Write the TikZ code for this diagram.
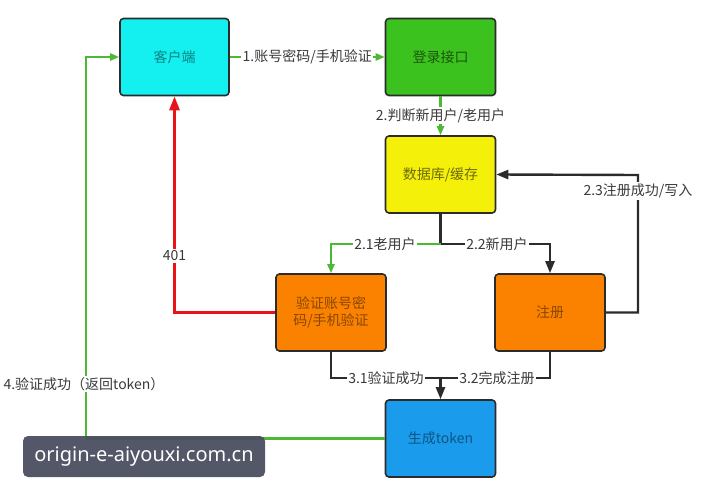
\documentclass[tikz,border=0pt]{standalone}
\usepackage{fontspec}
\setmainfont{Noto Sans CJK SC}
\newfontfamily\wmfont{Noto Sans}
\usetikzlibrary{arrows.meta}
\definecolor{cfill}{HTML}{14EFEF}
\definecolor{lfill}{HTML}{3CC21E}
\definecolor{dfill}{HTML}{F4F00A}
\definecolor{ofill}{HTML}{FA8200}
\definecolor{tfill}{HTML}{1A9BEB}
\definecolor{bord}{HTML}{2B2B2B}
\definecolor{gline}{HTML}{4DB833}
\definecolor{rline}{HTML}{E8141A}
\definecolor{ltext}{HTML}{3A3A3A}
\definecolor{wmbg}{HTML}{4B4E60}
\tikzset{
  box/.style={draw=bord, line width=1.6pt, rounded corners=3.5pt, minimum width=110pt, minimum height=77pt, inner sep=2pt, font=\fontsize{14}{17}\selectfont, align=center},
  lbl/.style={fill=white, text=ltext, inner sep=1.5pt, font=\fontsize{14}{17}\selectfont},
  gconn/.style={draw=gline, line width=2.2pt, -{Triangle[length=9pt,width=7pt]}},
  gplain/.style={draw=gline, line width=2.2pt},
  kconn/.style={draw=bord, line width=2.4pt, -{Triangle[length=12pt,width=9pt]}},
  kplain/.style={draw=bord, line width=2.4pt},
  rconn/.style={draw=rline, line width=2.6pt, -{Triangle[length=14pt,width=10pt]}},
}
\begin{document}
\begin{tikzpicture}[x=1pt,y=-1pt]
\useasboundingbox[fill=white] (0,0) rectangle (704,500);
\node[box, fill=cfill, text=cfill!55!black, minimum width=109pt] (client) at (174.5,57) {客户端};
\node[box, fill=lfill, text=lfill!45!black] (login) at (440.5,57) {登录接口};
\node[box, fill=dfill, text=dfill!45!black] (db) at (440.5,174.5) {数据库/缓存};
\node[box, fill=ofill, text=ofill!55!black] (verify) at (331,312.5) {验证账号密\\码/手机验证};
\node[box, fill=ofill, text=ofill!55!black] (reg) at (550,312.5) {注册};
\node[box, fill=tfill, text=tfill!55!black] (token) at (440.5,438.5) {生成token};

\coordinate (j1) at (440.5,244);
\coordinate (j2) at (440.5,378);
\coordinate (r1) at (638,312.5);
\coordinate (r2) at (638,175);
\coordinate (g1) at (86,438.5);
\coordinate (g2) at (86,57);

% 1
\draw[gconn] (client.east) -- node[lbl] (l1) {1.账号密码/手机验证} (login.west);
% 2
\draw[gconn] (login.south) -- node[lbl] (l2) {2.判断新用户/老用户} (db.north);
% DB branch
\draw[kplain] (db.south) -- (j1);
\draw[gconn] (j1) -| (verify.north);
\draw[kconn] (j1) -| (reg.north);
\node[lbl] (l21) at (385,244) {2.1老用户};
\node[lbl] (l22) at (497,244) {2.2新用户};
% 2.3
\draw[kconn] (reg.east) -- (r1) -- (r2) -- (db.east);
\node[lbl] (l23) at (638,191) {2.3注册成功/写入};
% 401
\draw[rconn] (verify.west) -| (client.south);
\node[lbl] (l401) at (174.5,256) {401};
% 3
\draw[kplain] (verify.south) |- (j2);
\draw[kplain] (reg.south) |- (j2);
\draw[kconn] (j2) -- (token.north);
\node[lbl] (l31) at (386,378) {3.1验证成功};
\node[lbl] (l32) at (497,378) {3.2完成注册};
% 4
\draw[gconn] (token.west) -- (g1) -- (g2) -- (client.west);
\node[lbl] (l4) at (84,384) {4.验证成功（返回token）};
% watermark
\node[fill=wmbg, fill opacity=0.95, text opacity=1, text=white, rounded corners=5pt, minimum width=242pt, minimum height=41pt, inner sep=0pt, font=\wmfont\fontsize{20}{24}\selectfont] (wm) at (144,456.5) {origin-e-aiyouxi.com.cn};
\end{tikzpicture}
\end{document}
